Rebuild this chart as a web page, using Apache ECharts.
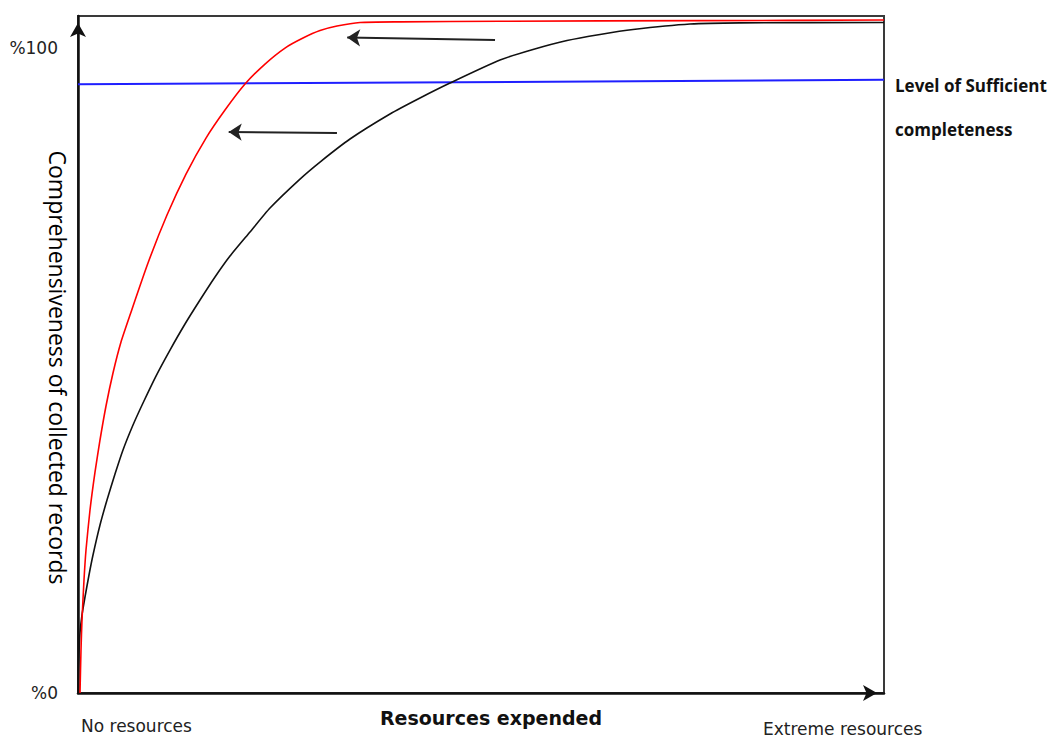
<!DOCTYPE html>
<html>
<head>
<meta charset="utf-8">
<script src="https://cdn.jsdelivr.net/npm/echarts@6/dist/echarts.min.js"></script>
<style>html,body{margin:0;padding:0;background:#fff}#c{width:1057px;height:737px}</style>
</head>
<body>
<div id="c"></div>
<script>
// Red curve (more efficient collection)
const fastX = [0.248, 0.372, 0.496, 0.744, 0.993, 1.489, 2.109, 2.730, 3.474, 4.342, 5.335, 6.452, 8.685, 11.042, 13.399, 15.881, 18.238, 20.720, 23.201, 25.682, 27.916, 30.025, 32.134, 34.988, 39.95, 52.36, 77.17, 100];
const fastY = [0, 6.67, 11.32, 17.52, 22.18, 28.38, 34.27, 39.24, 44.51, 49.63, 54.44, 58.62, 66.69, 74.13, 80.49, 86.07, 90.42, 94.45, 97.55, 100.03, 101.58, 102.74, 103.44, 103.99, 104.09, 104.19, 104.28, 104.37];
// Black curve (baseline collection)
const slowX = [0, 0.062, 0.124, 0.248, 0.496, 0.868, 1.365, 1.861, 2.730, 3.598, 4.591, 5.583, 6.824, 8.065, 9.677, 11.414, 13.275, 15.136, 16.998, 18.859, 21.340, 23.821, 27.543, 30.025, 33.747, 38.710, 42.432, 46.154, 52.357, 56.452, 60.670, 64.764, 68.859, 75.931, 82.134, 100];
const slowY = [0, 3.88, 6.20, 9.31, 12.10, 14.89, 18.30, 21.40, 26.05, 29.93, 33.96, 37.69, 41.56, 44.98, 49.16, 53.19, 57.23, 60.95, 64.52, 67.77, 71.50, 75.22, 79.71, 82.35, 85.92, 89.80, 92.28, 94.60, 98.17, 99.80, 101.19, 102.13, 102.90, 103.75, 103.94, 103.99];
// Blue threshold line
const levelX = [0, 100];
const levelY = [94.4, 95.1];
// Arrows: [fromX, fromY, toX, toY]
const arrows = [
  [51.74, 101.27, 33.4, 101.65],
  [32.13, 86.85, 18.7, 87.0]
];
// Tick labels
const yTickLabels = {0: '%0', 100: '%100'};
const xEndLabels = ['No resources', 'Extreme resources'];
const xTitle = 'Resources expended';
const yTitle = 'Comprehensiveness of collected records';
const levelLabel = ['Level of Sufficient', 'completeness'];

const zip = (xs, ys) => xs.map((x, i) => [x, ys[i]]);

const chart = echarts.init(document.getElementById('c'), null, {renderer: 'svg'});
chart.setOption({
  animation: false,
  backgroundColor: '#fff',
  grid: {left: 78, right: 173, top: 16, bottom: 44, containLabel: false, outerBoundsMode: 'none',
    show: true, borderColor: '#3a3a3a', borderWidth: 2, backgroundColor: 'transparent'},
  xAxis: {
    type: 'value', min: 0, max: 100,
    axisLine: {show: true, lineStyle: {color: '#111', width: 2.5}, symbol: ['none', 'arrow'], symbolSize: [12, 14], symbolOffset: [0, -7]},
    axisTick: {show: false}, splitLine: {show: false}, axisLabel: {show: false},
    name: xTitle, nameLocation: 'middle', nameGap: 15, nameMoveOverlap: false,
    nameTextStyle: {fontFamily: 'DejaVu Sans', fontWeight: 'bold', fontSize: 19, color: '#111', padding: [0, 0, 0, 20]}
  },
  yAxis: {
    type: 'value', min: 0, max: 105, interval: 100,
    axisLine: {show: true, lineStyle: {color: '#111', width: 2.5}, symbol: ['none', 'arrow'], symbolSize: [12, 14], symbolOffset: [0, -7]},
    axisTick: {show: false}, splitLine: {show: false},
    axisLabel: {show: true, margin: 20, fontFamily: 'DejaVu Sans', fontSize: 17, color: '#222',
      formatter: v => (yTickLabels[v] !== undefined ? yTickLabels[v] : '')},
    name: yTitle, nameLocation: 'middle', nameGap: 9, nameRotate: -90, nameMoveOverlap: false,
    nameTextStyle: {fontFamily: 'Open Sans', fontSize: 23, color: '#000', padding: [0, 0, 0, 26]}
  },
  series: [
    {
      type: 'line', data: zip(levelX, levelY), showSymbol: false, silent: true,
      lineStyle: {color: '#1f1fff', width: 2}
    },
    {
      type: 'line', data: zip(slowX, slowY), showSymbol: false, smooth: 0.2, silent: true,
      lineStyle: {color: '#111', width: 1.6},
      markLine: {
        silent: true, symbol: ['none', 'arrow'], symbolSize: [13, 13],
        lineStyle: {color: '#222', width: 2, type: 'solid'}, label: {show: false},
        data: arrows.map(a => [{coord: [a[0], a[1]]}, {coord: [a[2], a[3]]}])
      }
    },
    {
      type: 'line', data: zip(fastX, fastY), showSymbol: false, smooth: 0.2, silent: true,
      lineStyle: {color: '#ff0000', width: 1.6}
    }
  ],
  graphic: [
    {type: 'text', left: 81, top: 717, style: {text: xEndLabels[0], font: '17px "DejaVu Sans"', fill: '#222'}},
    {type: 'text', left: 763, top: 720, style: {text: xEndLabels[1], font: '17px "DejaVu Sans"', fill: '#222'}},
    {type: 'text', left: 895, top: 77, style: {text: levelLabel[0], font: 'bold 17px "Open Sans"', fill: '#111'}},
    {type: 'text', left: 895, top: 121, style: {text: levelLabel[1], font: 'bold 17px "Open Sans"', fill: '#111'}}
  ]
});
</script>
</body>
</html>
